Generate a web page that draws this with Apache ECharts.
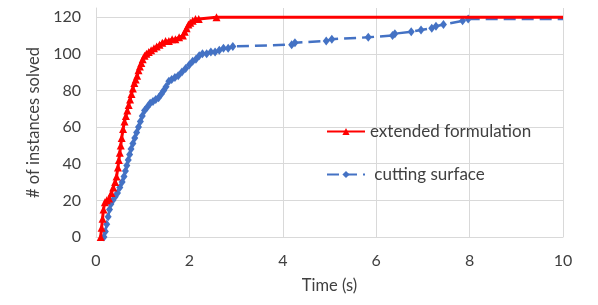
<!DOCTYPE html>
<html>
<head>
<meta charset="utf-8">
<script src="https://cdn.jsdelivr.net/npm/echarts@6/dist/echarts.min.js"></script>
<style>
html,body{margin:0;padding:0;background:#fff;}
#chart{width:598px;height:305px;}
</style>
</head>
<body>
<div id="chart"></div>
<script>
var xTicks = [0, 2, 4, 6, 8, 10];
var yTicks = [0, 20, 40, 60, 80, 100, 120];

var extendedTime = [0.10,0.12,0.14,0.16,0.19,0.23,0.28,0.33,0.37,0.41,0.44,0.47,0.49,0.51,0.53,0.55,0.58,0.61,0.64,0.67,0.70,0.73,0.76,0.79,0.82,0.85,0.88,0.91,0.94,0.97,1.00,1.04,1.08,1.13,1.18,1.24,1.30,1.36,1.42,1.49,1.56,1.63,1.70,1.78,1.86,1.90,1.94,1.98,2.02,2.07,2.13,2.20,2.58,10];
var extendedSolved = [0,5,10,15,19,20,21,24,27,30,33,38,42,46,50,54,59,63,66,69,72,75,78,81,84,86,88,91,93,95,97,99,100,101,102,103,104,105,106,107,107,108,108,109,110,112,114,116,117,118,119,119,120,120];

var cuttingTime = [0.17,0.20,0.23,0.26,0.29,0.32,0.36,0.41,0.46,0.51,0.56,0.60,0.63,0.66,0.69,0.72,0.75,0.79,0.83,0.87,0.91,0.95,0.99,1.04,1.10,1.16,1.22,1.28,1.34,1.40,1.45,1.50,1.56,1.62,1.69,1.76,1.84,1.92,2.00,2.07,2.14,2.21,2.28,2.37,2.46,2.55,2.64,2.73,2.83,2.93,4.19,4.26,4.93,5.05,5.83,6.35,6.40,6.75,6.96,7.19,7.28,7.44,7.85,7.97,10];
var cuttingSolved = [0,3,7,11,15,18,20,22,24,27,30,33,36,39,42,45,48,51,54,57,60,63,66,69,71,73,74,75,76,78,80,82,85,86,87,88,90,92,94,96,97,99,100,100,101,101,102,103,103,104,105,106,107,108,109,110,111,112,113,114,115,116,118,119,119];

var seriesNames = ['extended formulation', ' cutting surface'];
var xName = 'Time (s)';
var yName = '# of instances solved';

// last point of each series only extends the line to the axis end (no marker)
function pairs(xs, ys) {
  return xs.map(function (x, i) {
    var item = {value: [x, ys[i]]};
    if (i === xs.length - 1) item.symbol = 'none';
    return item;
  });
}

var FONT = 'Lato';
var TXT = '#404040';
var GRID = '#d9d9d9';

var chart = echarts.init(document.getElementById('chart'), null, {renderer: 'canvas'});

chart.setOption({
  animation: false,
  backgroundColor: '#ffffff',
  textStyle: {fontFamily: FONT},
  grid: {left: 96, right: 35, top: 8, bottom: 68, containLabel: false},
  legend: {
    orient: 'vertical',
    left: 326,
    top: 123,
    padding: 0,
    itemGap: 26,
    itemWidth: 38,
    itemHeight: 9,
    textStyle: {fontFamily: FONT, fontSize: 17, color: TXT},
    data: seriesNames
  },
  xAxis: {
    type: 'value',
    min: 0, max: 10, interval: 2,
    name: xName,
    nameLocation: 'middle',
    nameGap: 40,
    nameTextStyle: {fontFamily: FONT, fontSize: 16.5, color: TXT},
    axisLine: {show: true, lineStyle: {color: GRID, width: 1}},
    axisTick: {show: false},
    axisLabel: {margin: 16, fontFamily: FONT, fontSize: 16, color: TXT,
      formatter: function (v) { return xTicks.indexOf(v) >= 0 ? String(v) : ''; }},
    splitLine: {show: true, lineStyle: {color: GRID, width: 1}}
  },
  yAxis: {
    type: 'value',
    min: 0, max: 125, interval: 20,
    name: yName,
    nameLocation: 'middle',
    nameGap: 40,
    nameTextStyle: {fontFamily: FONT, fontSize: 16.5, color: TXT},
    axisLine: {show: true, lineStyle: {color: GRID, width: 1}},
    axisTick: {show: false},
    axisLabel: {margin: 15, fontFamily: FONT, fontSize: 16, color: TXT, showMaxLabel: false,
      formatter: function (v) { return yTicks.indexOf(v) >= 0 ? String(v) : ''; }},
    splitLine: {show: true, showMaxLine: false,
      lineStyle: {color: [GRID, GRID, GRID, GRID, GRID, GRID, GRID, 'rgba(0,0,0,0)'], width: 1}}
  },
  series: [
    {
      name: seriesNames[0],
      type: 'line',
      data: pairs(extendedTime, extendedSolved),
      clip: true,
      symbol: 'triangle',
      symbolSize: 8,
      showAllSymbol: true,
      lineStyle: {color: '#ff0000', width: 3},
      itemStyle: {color: '#ff0000'},
      z: 3
    },
    {
      name: seriesNames[1],
      type: 'line',
      data: pairs(cuttingTime, cuttingSolved),
      clip: true,
      symbol: 'diamond',
      symbolSize: [7, 9],
      showAllSymbol: true,
      lineStyle: {color: '#4472c4', width: 2.5, type: [12, 6]},
      itemStyle: {color: '#4472c4'},
      z: 2
    }
  ]
});
</script>
</body>
</html>
